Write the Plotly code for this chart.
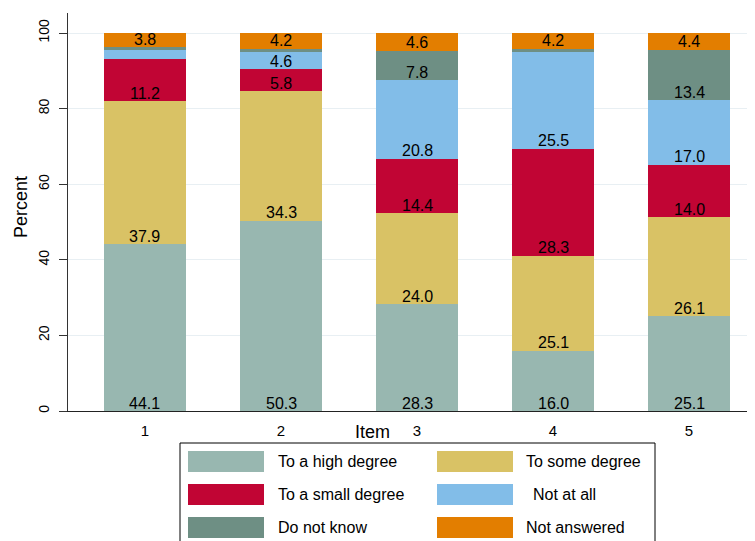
import plotly.graph_objects as go

items = ["1", "2", "3", "4", "5"]
series_names = ["To a high degree", "To some degree", "To a small degree",
                "Not at all", "Do not know", "Not answered"]
high = [44.1, 50.3, 28.3, 16.0, 25.1]
some = [37.9, 34.3, 24.0, 25.1, 26.1]
small = [11.2, 5.8, 14.4, 28.3, 14.0]
notatall = [2.5, 4.6, 20.8, 25.5, 17.0]
dontknow = [0.5, 0.8, 7.8, 0.9, 13.4]
noans = [3.8, 4.2, 4.6, 4.2, 4.4]
series_values = [high, some, small, notatall, dontknow, noans]
colors = ["#98b7b0", "#d9c265", "#c10534", "#82bde8", "#6e8f84", "#e37e00"]
ytick_vals = [0, 20, 40, 60, 80, 100]

OFF = 8  # page body margin
W, H = 755 - OFF, 541 - OFF
L, R, T, B = 60, 0, 5, 130
PW, PH = W - L - R, H - T - B


def px(x):
    return (x - OFF - L) / PW


def py(y):
    return (H - B - (y - OFF)) / PH


fig = go.Figure()
for name, vals, col in zip(series_names, series_values, colors):
    fig.add_trace(go.Bar(
        x=items, y=vals, name=name, width=0.6,
        marker=dict(color=col, line=dict(width=0)),
        showlegend=False,
    ))

# value labels at the base of each segment (Stata style)
base = [0.0] * len(items)
for vals in series_values:
    for i, v in enumerate(vals):
        if v >= 3:
            fig.add_annotation(x=i, y=base[i], text=f"{v:.1f}", showarrow=False,
                               xanchor="center", yanchor="middle", yshift=8,
                               font=dict(size=16, color="black"))
        base[i] += v

fig.update_layout(
    barmode="stack",
    width=W, height=H,
    margin=dict(l=L, r=R, t=T, b=B, pad=0),
    paper_bgcolor="white", plot_bgcolor="white",
    font=dict(family="Liberation Sans", color="black"),
    xaxis=dict(type="category", range=[-0.566, 4.485], showgrid=False,
               showline=True, linecolor="#222", linewidth=1, ticks="",
               tickfont=dict(size=15), ticklabelstandoff=6, zeroline=False),
    yaxis=dict(range=[0, 105.3], tickvals=ytick_vals, showgrid=True,
               gridcolor="#e8eff3", gridwidth=1, showline=True,
               linecolor="#333", linewidth=1, ticks="outside", ticklen=8,
               tickcolor="#333", tickangle=-90, tickfont=dict(size=14),
               ticklabelstandoff=4, zeroline=False),
)

# axis titles
fig.add_annotation(text="Percent", xref="paper", yref="paper", x=px(21), y=py(207),
                   textangle=-90, showarrow=False, font=dict(size=18),
                   xanchor="center", yanchor="middle")
fig.add_annotation(text="Item", xref="paper", yref="paper", x=px(372), y=py(432),
                   showarrow=False, font=dict(size=18),
                   xanchor="center", yanchor="middle")

# legend box
fig.add_shape(type="rect", xref="paper", yref="paper",
              x0=px(180), x1=px(655), y0=py(443), y1=py(560),
              line=dict(color="black", width=1), fillcolor="white", layer="above")
row_tops = [451, 484, 517]
col_sw = [188, 437]
col_tx = [276, 524]
for i, (name, col) in enumerate(zip(series_names, colors)):
    r, c = divmod(i, 2)
    y0 = row_tops[r]
    fig.add_shape(type="rect", xref="paper", yref="paper",
                  x0=px(col_sw[c]), x1=px(col_sw[c] + 76), y0=py(y0), y1=py(y0 + 21),
                  line=dict(width=0), fillcolor=col, layer="above")
    tx = col_tx[c] + (7 if name == "Not at all" else 0)
    fig.add_annotation(text=name, xref="paper", yref="paper", x=px(tx), y=py(y0 + 10.5),
                       showarrow=False, font=dict(size=16), xanchor="left", yanchor="middle")

fig.write_html("out.html")
